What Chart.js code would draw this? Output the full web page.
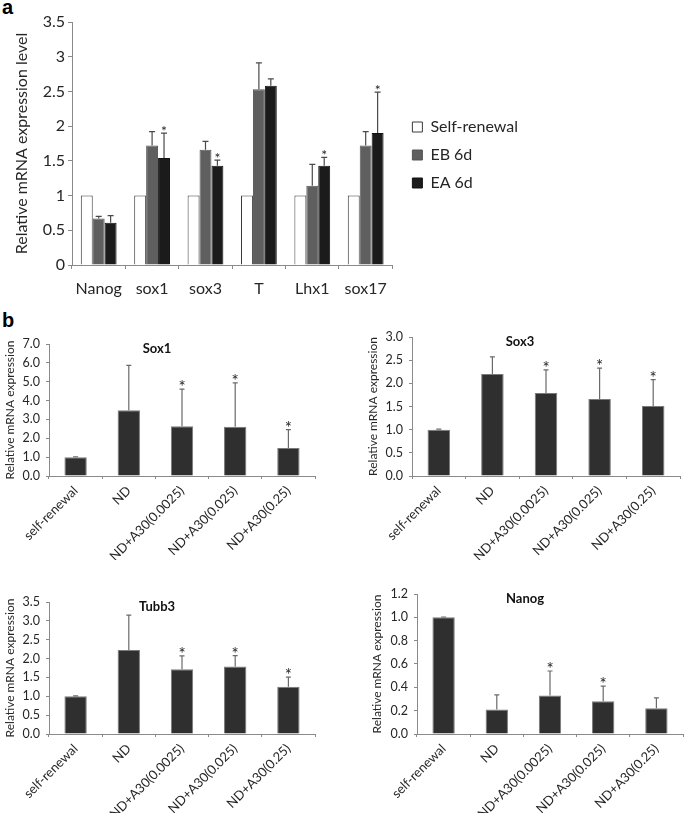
<!DOCTYPE html>
<html>
<head>
<meta charset="utf-8">
<script src="https://cdn.jsdelivr.net/npm/chart.js@4.4.1/dist/chart.umd.min.js"></script>
<style>
  body { margin: 0; background: #fff; width: 685px; height: 813px; position: relative; overflow: hidden; }
  .box { position: absolute; }
  .lbl { position: absolute; font: bold 20px "Liberation Sans", Arial, sans-serif; line-height: 20px; color: #000; }
</style>
</head>
<body>
<div class="lbl" style="left:2px;top:-3px">a</div>
<div class="lbl" style="left:2px;top:310px">b</div>
<div class="box" style="left:0;top:0"><canvas id="chA" width="685" height="310"></canvas></div>
<div class="box" style="left:0;top:322px"><canvas id="chSox1" width="340" height="238"></canvas></div>
<div class="box" style="left:340px;top:322px"><canvas id="chSox3" width="345" height="238"></canvas></div>
<div class="box" style="left:0;top:560px"><canvas id="chTubb3" width="340" height="253"></canvas></div>
<div class="box" style="left:340px;top:560px"><canvas id="chNanog" width="345" height="253"></canvas></div>
<script>
// ---- panel a data ----
var genesA = ['Nanog', 'sox1', 'sox3', 'T', 'Lhx1', 'sox17'];
var seriesA = ['Self-renewal', 'EB 6d', 'EA 6d'];
var selfRenewalA = [1, 1, 1, 1, 1, 1];
var eb6d = [0.67, 1.72, 1.66, 2.53, 1.14, 1.72];
var eb6dErr = [0.03, 0.20, 0.12, 0.38, 0.31, 0.20];
var ea6d = [0.61, 1.54, 1.43, 2.58, 1.43, 1.90];
var ea6dErr = [0.10, 0.36, 0.08, 0.10, 0.12, 0.59];
var ea6dStar = [false, true, true, false, true, true];
var ticksA = [0, 0.5, 1, 1.5, 2, 2.5, 3, 3.5];

// ---- panel b data ----
var conditions = ['self-renewal', 'ND', 'ND+A30(0.0025)', 'ND+A30(0.025)', 'ND+A30(0.25)'];
var sox1Vals = [1.0, 3.49, 2.64, 2.61, 1.49];
var sox1Err = [0.02, 2.38, 1.97, 2.33, 0.97];
var sox1Star = [false, false, true, true, true];
var sox3Vals = [1.0, 2.20, 1.79, 1.66, 1.51];
var sox3Err = [0.01, 0.37, 0.50, 0.67, 0.57];
var sox3Star = [false, false, true, true, true];
var tubb3Vals = [1.0, 2.23, 1.72, 1.79, 1.25];
var tubb3Err = [0.01, 0.92, 0.35, 0.29, 0.26];
var tubb3Star = [false, false, true, true, true];
var nanogVals = [1.0, 0.21, 0.33, 0.28, 0.22];
var nanogErr = [0.003, 0.125, 0.21, 0.13, 0.09];
var nanogStar = [false, false, true, true, false];

var FONT = 'Lato, "Open Sans", sans-serif';
var AXIS = '#8a8a8a';
var TEXT = '#262626';

// error bars (upward only) and significance stars
var errorBars = {
  id: 'errorBars',
  afterDatasetsDraw: function(chart, args, o) {
    var ctx = chart.ctx;
    var y = chart.scales.y;
    chart.data.datasets.forEach(function(ds, i) {
      if (!ds.errors) return;
      var meta = chart.getDatasetMeta(i);
      meta.data.forEach(function(bar, j) {
        var top = y.getPixelForValue(ds.data[j] + ds.errors[j]);
        ctx.save();
        ctx.strokeStyle = o.color;
        ctx.lineWidth = o.width;
        ctx.beginPath();
        ctx.moveTo(bar.x, bar.y);
        ctx.lineTo(bar.x, top);
        ctx.moveTo(bar.x - o.cap, top);
        ctx.lineTo(bar.x + o.cap, top);
        ctx.stroke();
        if (ds.stars && ds.stars[j]) {
          ctx.fillStyle = TEXT;
          ctx.font = o.starSize + 'px ' + FONT;
          ctx.textAlign = 'center';
          ctx.textBaseline = 'alphabetic';
          ctx.fillText('*', bar.x, top + o.starShift);
        }
        ctx.restore();
      });
    });
  }
};

// small bold title inside the plot area
var panelTitle = {
  id: 'panelTitle',
  afterDraw: function(chart, args, o) {
    if (!o.text) return;
    var ctx = chart.ctx;
    ctx.save();
    ctx.font = 'bold 13px ' + FONT;
    ctx.fillStyle = '#111';
    ctx.textAlign = 'center';
    ctx.textBaseline = 'middle';
    ctx.fillText(o.text, chart.chartArea.left + o.dx, chart.chartArea.top + o.dy);
    ctx.restore();
  }
};

// ---- panel a ----
new Chart(document.getElementById('chA'), {
  type: 'bar',
  data: {
    labels: genesA,
    datasets: [
      { label: seriesA[0], data: selfRenewalA, backgroundColor: '#ffffff', borderColor: '#3a3a3a', borderWidth: 1 },
      { label: seriesA[1], data: eb6d, errors: eb6dErr, backgroundColor: '#5f5f5f', borderColor: '#555', borderWidth: 1 },
      { label: seriesA[2], data: ea6d, errors: ea6dErr, stars: ea6dStar, backgroundColor: '#1b1b1b', borderColor: '#111', borderWidth: 1 }
    ]
  },
  options: {
    responsive: false,
    animation: false,
    devicePixelRatio: 1,
    categoryPercentage: 0.67,
    barPercentage: 1.0,
    layout: { padding: { left: 0, top: 0, right: 157, bottom: 0 } },
    plugins: {
      tooltip: { enabled: false },
      // empty title only reserves the space above the plot
      title: { display: true, text: ' ', font: { size: 22, lineHeight: 1 }, padding: 0 },
      legend: {
        position: 'right',
        labels: { font: { family: FONT, size: 16 }, color: TEXT, boxWidth: 10, boxHeight: 10, padding: 12 }
      },
      errorBars: { color: '#4a4a4a', width: 1.2, cap: 3, starSize: 14, starShift: 3 }
    },
    scales: {
      x: {
        grid: { display: true, drawOnChartArea: false, drawTicks: true, tickLength: 4, color: AXIS, offset: true },
        border: { color: AXIS },
        ticks: { font: { family: FONT, size: 16 }, color: TEXT, padding: 10, maxRotation: 0 },
        afterFit: function(s) { s.height = 45; }
      },
      y: {
        min: 0, max: 3.5,
        afterBuildTicks: function(s) { s.ticks = ticksA.map(function(v) { return { value: v }; }); },
        grid: { display: true, drawOnChartArea: false, drawTicks: true, tickLength: 4, color: AXIS },
        border: { color: AXIS },
        ticks: { font: { family: FONT, size: 16 }, color: TEXT, padding: 3, callback: function(v) { return String(v); } },
        title: { display: true, text: 'Relative mRNA expression level', font: { family: FONT, size: 16 }, color: TEXT, padding: { top: 12, bottom: 0 } },
        afterFit: function(s) { s.width = 72; }
      },
      // invisible spacer between plot and legend
      gap: {
        display: false,
        position: 'right',
        afterFit: function(s) { s.width = 8; }
      }
    }
  },
  plugins: [errorBars]
});

// ---- panel b ----
function panelB(id, name, vals, errs, stars, yMax, yStep, pad, yWidth, xHeight) {
  var tickVals = [];
  for (var v = 0; v <= yMax + 1e-9; v += yStep) tickVals.push(v);
  return new Chart(document.getElementById(id), {
    type: 'bar',
    data: {
      labels: conditions,
      datasets: [{ label: name, data: vals, errors: errs, stars: stars, backgroundColor: '#2f2f2f', borderColor: '#7a7a7a', borderWidth: 1 }]
    },
    options: {
      responsive: false,
      animation: false,
      devicePixelRatio: 1,
      categoryPercentage: 1.0,
      barPercentage: 0.42,
      layout: { padding: pad },
      plugins: {
        tooltip: { enabled: false },
        legend: { display: false },
        errorBars: { color: '#6a6a6a', width: 1.2, cap: 2.5, starSize: 17, starShift: 4 },
        panelTitle: { text: name, dx: 108, dy: 5 }
      },
      scales: {
        x: {
          grid: { display: true, drawOnChartArea: false, drawTicks: true, tickLength: 3, color: AXIS, offset: true },
          border: { color: AXIS },
          ticks: { font: { family: FONT, size: 13 }, color: TEXT, padding: 4, minRotation: 45, maxRotation: 45 },
          afterFit: function(s) { s.height = xHeight; }
        },
        y: {
          min: 0, max: yMax,
          afterBuildTicks: function(s) { s.ticks = tickVals.map(function(t) { return { value: t }; }); },
          grid: { display: true, drawOnChartArea: false, drawTicks: true, tickLength: 3, color: AXIS },
          border: { color: AXIS },
          ticks: { font: { family: FONT, size: 12.5 }, color: TEXT, padding: 6, callback: function(t) { return Number(t).toFixed(1); } },
          title: { display: true, text: 'Relative mRNA expression', font: { family: FONT, size: 12 }, color: TEXT, padding: { top: 3, bottom: 0 } },
          afterFit: function(s) { s.width = yWidth; }
        }
      }
    },
    plugins: [errorBars, panelTitle]
  });
}

panelB('chSox1', 'Sox1', sox1Vals, sox1Err, sox1Star, 7, 1, { left: 0, top: 22, right: 25, bottom: 0 }, 49, 84);
panelB('chSox3', 'Sox3', sox3Vals, sox3Err, sox3Star, 3, 0.5, { left: 23, top: 15, right: 5, bottom: 0 }, 49, 84);
panelB('chTubb3', 'Tubb3', tubb3Vals, tubb3Err, tubb3Star, 3.5, 0.5, { left: 0, top: 42, right: 25, bottom: 0 }, 49, 79);
panelB('chNanog', 'Nanog', nanogVals, nanogErr, nanogStar, 1.2, 0.2, { left: 27, top: 34, right: 2, bottom: 0 }, 50, 79);
</script>
</body>
</html>
